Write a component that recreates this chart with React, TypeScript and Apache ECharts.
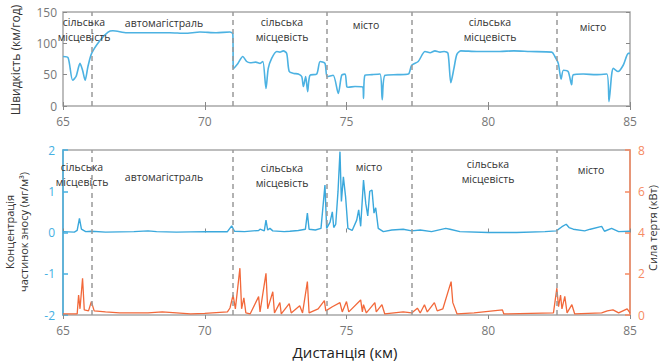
import React, { useEffect, useRef } from "react";
import * as echarts from "echarts";

// ---- data ----
const xTicksMin = 65;
const xTicksMax = 85;
const boundaries = [66, 71, 74.3, 77.3, 82.4];
const zoneNames = [
  ["сільська", "місцевість"],
  ["автомагістраль"],
  ["сільська", "місцевість"],
  ["місто"],
  ["сільська", "місцевість"],
  ["місто"],
];

const speed: [number, number][] = [
  [65.0, 79], [65.18, 77], [65.34, 41], [65.46, 47], [65.6, 68], [65.69, 57], [65.78, 41],
  [65.88, 63], [66.01, 84], [66.31, 105], [66.59, 118], [66.76, 120], [67.25, 117], [68.0, 117],
  [68.77, 117], [69.3, 116], [69.83, 118], [70.4, 117], [70.89, 118], [70.99, 115], [71.01, 60],
  [71.17, 68], [71.34, 79], [71.48, 71], [71.6, 69], [71.8, 70], [71.95, 68], [72.05, 71],
  [72.16, 28], [72.24, 60], [72.36, 76], [72.54, 87], [72.65, 86], [72.77, 88], [72.89, 84],
  [72.98, 55], [73.15, 52], [73.3, 51], [73.42, 47], [73.48, 31], [73.56, 47], [73.63, 23],
  [73.71, 49], [73.95, 51], [74.07, 71], [74.24, 68], [74.32, 47], [74.53, 49], [74.71, 20],
  [74.83, 49], [74.95, 51], [75.01, 31], [75.06, 30], [75.3, 31], [75.58, 30], [75.6, 12],
  [75.65, 49], [75.9, 50], [76.18, 51], [76.26, 10], [76.36, 49], [76.8, 50], [77.18, 51],
  [77.3, 65], [77.53, 71], [77.77, 87], [77.95, 85], [78.12, 88], [78.3, 86], [78.45, 87],
  [78.58, 84], [78.68, 37], [78.79, 60], [78.89, 82], [79.03, 88], [79.6, 87], [80.41, 87],
  [80.9, 88], [81.47, 87], [82.24, 86], [82.35, 79], [82.47, 68], [82.57, 43], [82.65, 57],
  [82.82, 55], [82.94, 34], [83.0, 50], [83.35, 51], [83.8, 50], [84.18, 51], [84.26, 7],
  [84.35, 49], [84.41, 60], [84.58, 55], [84.76, 65], [84.94, 84], [85.0, 84],
];

const concentration: [number, number][] = [
  [65.0, 0.02], [65.4, 0.01], [65.5, 0.05], [65.58, 0.34], [65.65, 0.08], [65.8, 0.02],
  [66.0, 0.03], [66.5, 0.01], [67.5, 0.02], [68.0, 0.04], [68.3, 0.02], [69.0, 0.01],
  [70.0, 0.02], [70.8, 0.02], [70.95, 0.16], [71.05, 0.03], [71.4, 0.02], [71.9, 0.05],
  [71.95, 0.08], [72.1, 0.04], [72.16, 0.3], [72.22, 0.06], [72.3, 0.1], [72.4, 0.04],
  [72.8, 0.02], [73.0, 0.03], [73.3, 0.05], [73.55, 0.08], [73.62, 0.47], [73.68, 0.08],
  [73.9, 0.06], [74.1, 0.1], [74.24, 1.15], [74.3, 0.1], [74.42, 0.25], [74.5, 0.5],
  [74.55, 0.12], [74.62, 0.2], [74.7, 0.99], [74.77, 1.96], [74.82, 0.75], [74.89, 1.35],
  [74.97, 0.85], [75.05, 0.1], [75.2, 0.05], [75.36, 0.3], [75.43, 0.55], [75.5, 0.15],
  [75.6, 1.27], [75.68, 0.7], [75.75, 0.4], [75.82, 1.0], [75.9, 1.03], [75.97, 0.47],
  [76.03, 0.6], [76.12, 0.1], [76.3, 0.02], [76.6, 0.06], [77.0, 0.08], [77.3, 0.04],
  [77.6, 0.06], [78.0, 0.02], [78.5, 0.1], [78.65, 0.08], [79.0, 0.02], [80.0, 0.0],
  [81.0, 0.0], [82.0, 0.02], [82.4, 0.04], [82.6, 0.14], [82.75, 0.2], [82.85, 0.12],
  [83.0, 0.08], [83.4, 0.04], [83.6, 0.08], [84.0, 0.15], [84.1, 0.03], [84.35, 0.1],
  [84.6, 0.02], [85.0, 0.03],
];

const friction: [number, number][] = [
  [65.0, 0.05], [65.5, 0.05], [65.55, 0.97], [65.6, 0.3], [65.69, 1.78], [65.75, 0.25],
  [65.9, 0.2], [66.0, 0.65], [66.1, 0.2], [66.5, 0.15], [67.0, 0.1], [68.0, 0.1],
  [68.5, 0.15], [69.0, 0.1], [69.5, 0.05], [70.0, 0.08], [70.8, 0.15], [70.89, 0.34],
  [71.0, 0.97], [71.08, 0.3], [71.24, 2.27], [71.3, 0.3], [71.38, 0.83], [71.45, 0.1],
  [71.6, 0.05], [71.9, 0.89], [71.95, 0.15], [72.16, 2.02], [72.22, 0.3], [72.4, 1.13],
  [72.46, 0.1], [72.65, 0.6], [72.7, 0.05], [72.98, 0.55], [73.05, 0.1], [73.35, 0.45],
  [73.45, 0.1], [73.62, 1.62], [73.68, 0.1], [74.0, 0.3], [74.22, 0.7], [74.27, 0.2],
  [74.5, 0.4], [74.77, 0.6], [74.85, 0.15], [75.0, 0.65], [75.08, 0.15], [75.5, 0.73],
  [75.56, 0.15], [75.6, 0.5], [75.7, 0.1], [76.0, 0.6], [76.05, 0.15], [76.25, 0.5],
  [76.35, 0.05], [77.0, 0.15], [77.3, 0.1], [77.5, 0.33], [77.6, 0.1], [77.75, 0.5],
  [77.85, 0.15], [78.1, 0.6], [78.2, 0.2], [78.4, 0.3], [78.69, 1.62], [78.75, 0.6],
  [78.9, 0.05], [79.5, 0.1], [80.5, 0.25], [80.55, 0.05], [81.5, 0.08], [82.3, 0.1],
  [82.42, 1.3], [82.48, 0.4], [82.55, 0.97], [82.6, 0.3], [82.7, 0.9], [82.78, 0.1],
  [82.95, 0.5], [83.05, 0.05], [84.0, 0.1], [84.2, 0.2], [84.4, 0.25], [84.6, 0.1],
  [84.9, 0.3], [85.0, 0.1],
];

// ---- layout / style ----
const FONT = "'Open Sans', 'Noto Sans', sans-serif";
const BLUE = "#3aa8dc";
const BLUE_AX = "#45b0e2";
const ORANGE = "#f2683a";
const ORANGE_AX = "#f68a62";
const GREY = "#a8a8a8";
const LABEL = "#777";

// [centerX, firstLineY]
const topZonePos = [
  [84, 22], [164, 23], [282, 22], [366, 25], [490, 22], [593, 27],
];
const botZonePos = [
  [82, 167], [164, 177], [282, 168], [369, 167], [488, 164], [591, 170],
];
const LINE_GAP = 14.5;

export default function App() {
  const ref = useRef<HTMLDivElement>(null);

  useEffect(() => {
    if (!ref.current) return;
    const chart = echarts.init(ref.current, undefined, { renderer: "svg" });

    const mkX = (grid: number, pos: "top" | "bottom", labels: boolean) => ({
      type: "value" as const,
      gridIndex: grid,
      position: pos,
      min: xTicksMin,
      max: xTicksMax,
      interval: 5,
      axisLine: { show: false },
      axisTick: { show: true, inside: true, length: 4, lineStyle: { color: "#888", width: 1 } },
      axisLabel: { show: labels, color: LABEL, fontSize: 12, fontFamily: FONT, margin: 9 },
      splitLine: { show: false },
    });

    const markLine = {
      silent: true,
      symbol: "none",
      label: { show: false },
      lineStyle: { color: "#999", type: [5, 4], width: 1.5 },
      data: boundaries.map((b) => ({ xAxis: b })),
    };

    const zoneText = (pos: number[][]) =>
      zoneNames.flatMap((lines, i) =>
        lines.map((t, j) => ({
          type: "text",
          x: pos[i][0],
          y: pos[i][1] + j * LINE_GAP,
          z: 10,
          style: {
            text: t,
            fill: "#333",
            fontSize: 10.5,
            fontFamily: FONT,
            textAlign: "center",
            textVerticalAlign: "middle",
          },
        }))
      );

    chart.setOption({
      animation: false,
      backgroundColor: "#fff",
      grid: [
        { left: 63, right: 30, top: 12, height: 94, show: true, borderColor: GREY, borderWidth: 1.5 },
        { left: 63, right: 30, top: 150, height: 165, show: true, borderColor: GREY, borderWidth: 1.5 },
      ],
      xAxis: [mkX(0, "bottom", true), mkX(0, "top", false), mkX(1, "bottom", true), mkX(1, "top", false)],
      yAxis: [
        {
          type: "value", gridIndex: 0, position: "left", min: 0, max: 150, interval: 50,
          axisLine: { show: false },
          axisTick: { show: true, inside: true, length: 4, lineStyle: { color: "#888" } },
          axisLabel: { color: LABEL, fontSize: 12, fontFamily: FONT, margin: 6 },
          splitLine: { show: false },
        },
        {
          type: "value", gridIndex: 0, position: "right", min: 0, max: 150, interval: 50,
          axisLine: { show: false },
          axisTick: { show: true, inside: true, length: 4, lineStyle: { color: "#888" } },
          axisLabel: { show: false },
          splitLine: { show: false },
        },
        {
          type: "value", gridIndex: 1, position: "left", min: -2, max: 2, interval: 1,
          axisLine: { show: true, lineStyle: { color: BLUE_AX, width: 1.5 } },
          axisTick: { show: true, inside: true, length: 5, lineStyle: { color: BLUE_AX, width: 1.5 } },
          axisLabel: { color: BLUE_AX, fontSize: 12, fontFamily: FONT, margin: 8 },
          splitLine: { show: false },
        },
        {
          type: "value", gridIndex: 1, position: "right", min: 0, max: 8, interval: 2,
          axisLine: { show: true, lineStyle: { color: ORANGE_AX, width: 1.5 } },
          axisTick: { show: true, inside: true, length: 5, lineStyle: { color: ORANGE_AX, width: 1.5 } },
          axisLabel: { color: ORANGE_AX, fontSize: 12, fontFamily: FONT, margin: 8 },
          splitLine: { show: false },
        },
      ],
      series: [
        {
          type: "line", xAxisIndex: 0, yAxisIndex: 0, data: speed, showSymbol: false,
          smooth: 0.25,
          lineStyle: { color: "#4cb2e2", width: 1.6 }, itemStyle: { color: "#4cb2e2" },
          markLine,
        },
        {
          type: "line", xAxisIndex: 2, yAxisIndex: 3, data: friction, showSymbol: false,
          lineStyle: { color: ORANGE, width: 1.3 }, itemStyle: { color: ORANGE },
        },
        {
          type: "line", xAxisIndex: 2, yAxisIndex: 2, data: concentration, showSymbol: false,
          lineStyle: { color: BLUE, width: 1.4 }, itemStyle: { color: BLUE },
          markLine,
        },
      ],
      graphic: [
        ...zoneText(topZonePos),
        ...zoneText(botZonePos),
        {
          type: "text", x: 15, y: 60, rotation: Math.PI / 2,
          style: {
            text: "Швидкість (км/год)", fill: "#333", fontSize: 12, fontFamily: FONT,
            textAlign: "center", textVerticalAlign: "middle",
          },
        },
        {
          type: "text", x: 9, y: 232, rotation: Math.PI / 2,
          style: {
            text: "Концентрація", fill: "#333", fontSize: 11, fontFamily: FONT,
            textAlign: "center", textVerticalAlign: "middle",
          },
        },
        {
          type: "text", x: 23, y: 232, rotation: Math.PI / 2,
          style: {
            text: "частинок зносу (мг/м³)", fill: "#333", fontSize: 11, fontFamily: FONT,
            textAlign: "center", textVerticalAlign: "middle",
          },
        },
        {
          type: "text", x: 652, y: 228, rotation: Math.PI / 2,
          style: {
            text: "Сила тертя (кВт)", fill: "#333", fontSize: 11, fontFamily: FONT,
            textAlign: "center", textVerticalAlign: "middle",
          },
        },
        {
          type: "text", x: 345, y: 352,
          style: {
            text: "Дистанція (км)", fill: "#222", fontSize: 15, fontFamily: FONT,
            textAlign: "center", textVerticalAlign: "middle",
          },
        },
      ],
    });

    return () => chart.dispose();
  }, []);

  return (
    <div
      ref={ref}
      style={{ position: "fixed", left: 0, top: 0, width: 660, height: 363, background: "#fff" }}
    />
  );
}
